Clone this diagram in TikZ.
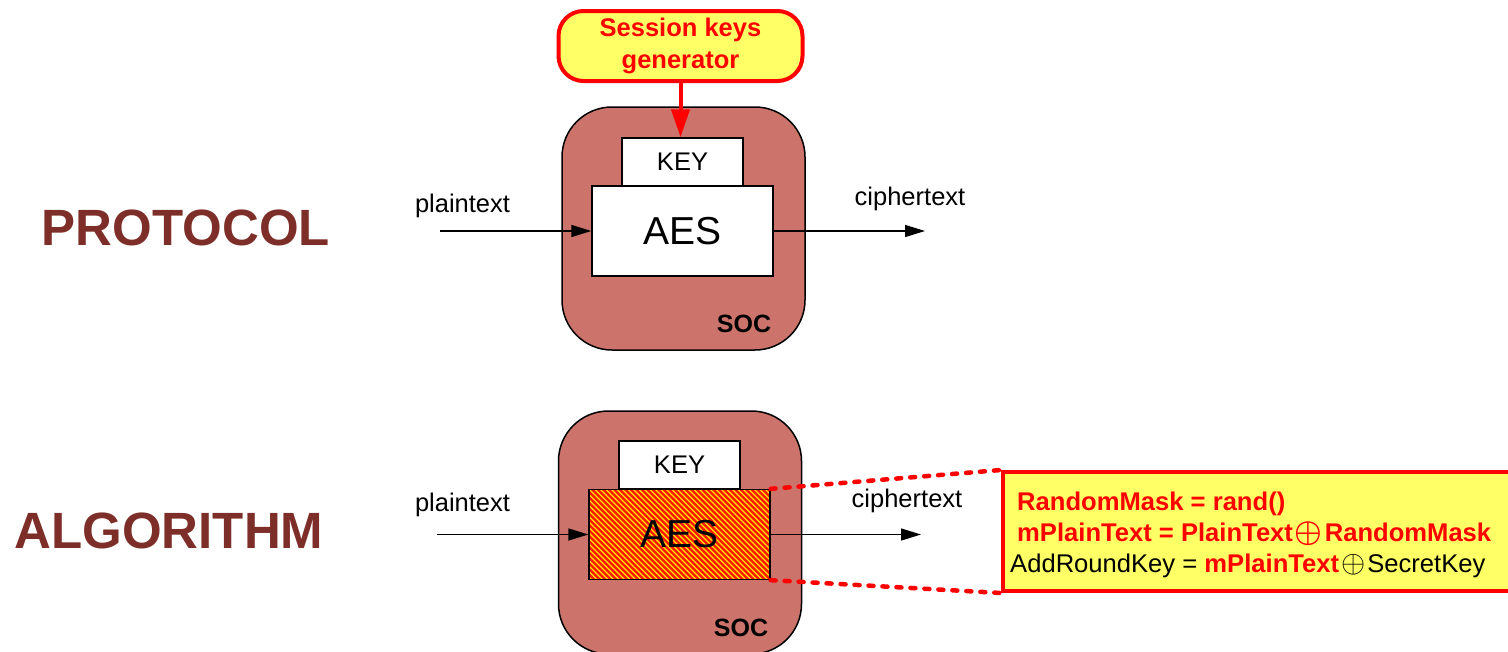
\documentclass[tikz,border=0pt]{standalone}
\usepackage{fontspec}
\setmainfont{Liberation Sans}
\usetikzlibrary{arrows.meta,calc}

\definecolor{socfill}{RGB}{204,115,107}
\definecolor{titlered}{RGB}{125,46,40}
\definecolor{noteyellow}{RGB}{255,255,102}
\definecolor{hotred}{RGB}{255,0,0}
\definecolor{stripered}{RGB}{255,25,0}
\definecolor{stripeyel}{RGB}{255,225,0}

\newcommand{\fs}[1]{\fontsize{#1}{#1}\selectfont}
% xor sign, thin and heavy variants
\newcommand{\xo}{\kern2pt\smash{\raisebox{-0.8pt}{\scalebox{1.25}{$\oplus$}}}\kern2pt}
\newcommand{\xob}{\kern2pt\smash{\raisebox{-0.8pt}{\scalebox{1.25}{\boldmath$\oplus$}}}\kern2pt}

\begin{document}
\begin{tikzpicture}[x=1pt,y=-1pt,
  soc/.style={draw=black, line width=1.5pt, fill=socfill, rounded corners=50pt,
    inner sep=0pt, minimum width=243pt, minimum height=243pt},
  keybox/.style={draw=black, line width=1.3pt, fill=white, inner sep=0pt,
    minimum width=121pt, minimum height=48pt, font=\fs{25.5}},
  aesbox/.style={draw=black, line width=1.3pt, inner sep=0pt,
    minimum width=181pt, minimum height=90pt, font=\fs{39}},
  flow/.style={line width=1.3pt, -{Triangle[length=20pt,width=12pt]}},
  flowlabel/.style={anchor=base, inner sep=0pt, font=\fs{25.5}},
  soclabel/.style={anchor=base, inner sep=0pt, font=\fs{25}\bfseries},
  title/.style={anchor=base, inner sep=0pt, font=\fs{51}\bfseries, text=titlered},
  hatched/.style={fill=stripered, path picture={
    \foreach \i in {-120,-114.5,...,200}
      \draw[stripeyel, line width=1.1pt]
        ($(path picture bounding box.north west)+(\i,-5)$) -- ++(110,110);}},
  notetext/.style={anchor=base west, inner sep=0pt, font=\fs{25.6}},
  hl/.style={text=hotred, font=\fs{25.6}\bfseries},
  zoomline/.style={hotred, line width=4.5pt, dash pattern=on 5pt off 9pt, line cap=round}
]
\useasboundingbox (0,0) rectangle (1508,651);

% ---------- protocol level ----------
\node[title] (ptitle) at (186,245) {PROTOCOL};

\node[soc] (soc1) at (683.5,228.5) {};
\node[keybox] (key1) at (682.5,162) {KEY};
\node[aesbox, fill=white] (aes1) at (682.5,231) {AES};
\node[soclabel] (soclbl1) at (744,332) {SOC};

\coordinate (pin1) at (440,231);
\coordinate (pout1) at (925,231);
\draw[flow] (pin1) -- (aes1.west);
\draw[flow] (aes1.east) -- (pout1);
\node[flowlabel] (plbl1) at (462.5,212) {plaintext};
\node[flowlabel] (clbl1) at (910,205) {ciphertext};

\node[draw=hotred, line width=4pt, fill=noteyellow, rounded corners=25pt,
  minimum width=244pt, minimum height=70pt, align=center, text=hotred,
  font=\fs{25.5}\bfseries, inner sep=0pt] (keygen) at (680.5,46)
  {Session keys\\[6pt]generator};
\draw[hotred, line width=4pt, -{Triangle[length=28pt,width=18pt]}]
  (keygen.south) -- (keygen.south |- key1.north);

% ---------- algorithm level ----------
\node[title] (atitle) at (169,548) {ALGORITHM};

\node[soc] (soc2) at (680,532.5) {};
\node[keybox] (key2) at (679.5,465) {KEY};
\node[aesbox, hatched] (aes2) at (679.5,534.5) {AES};
\node[soclabel] (soclbl2) at (741,636) {SOC};

\coordinate (pin2) at (437,534.5);
\coordinate (pout2) at (921,534.5);
\draw[flow] (pin2) -- (aes2.west);
\draw[flow] (aes2.east) -- (pout2);
\node[flowlabel] (plbl2) at (462.5,511) {plaintext};
\node[flowlabel] (clbl2) at (907,507) {ciphertext};

% masking note
\node[draw=hotred, line width=4pt, fill=noteyellow, inner sep=0pt,
  minimum width=512pt, minimum height=119pt] (note) at (1259,531.5) {};
\draw[zoomline] (aes2.north east) -- (note.north west);
\draw[zoomline] (aes2.south east) -- (note.south west);

\node[notetext, hl] (line1) at (1017,510) {RandomMask = rand()};
\node[notetext, hl] (line2) at (1017,541)
  {mPlainText = PlainText\xob RandomMask};
\node[notetext] (line3) at (1010,572)
  {AddRoundKey = {\color{hotred}\bfseries mPlainText}\xo SecretKey};
\end{tikzpicture}
\end{document}
